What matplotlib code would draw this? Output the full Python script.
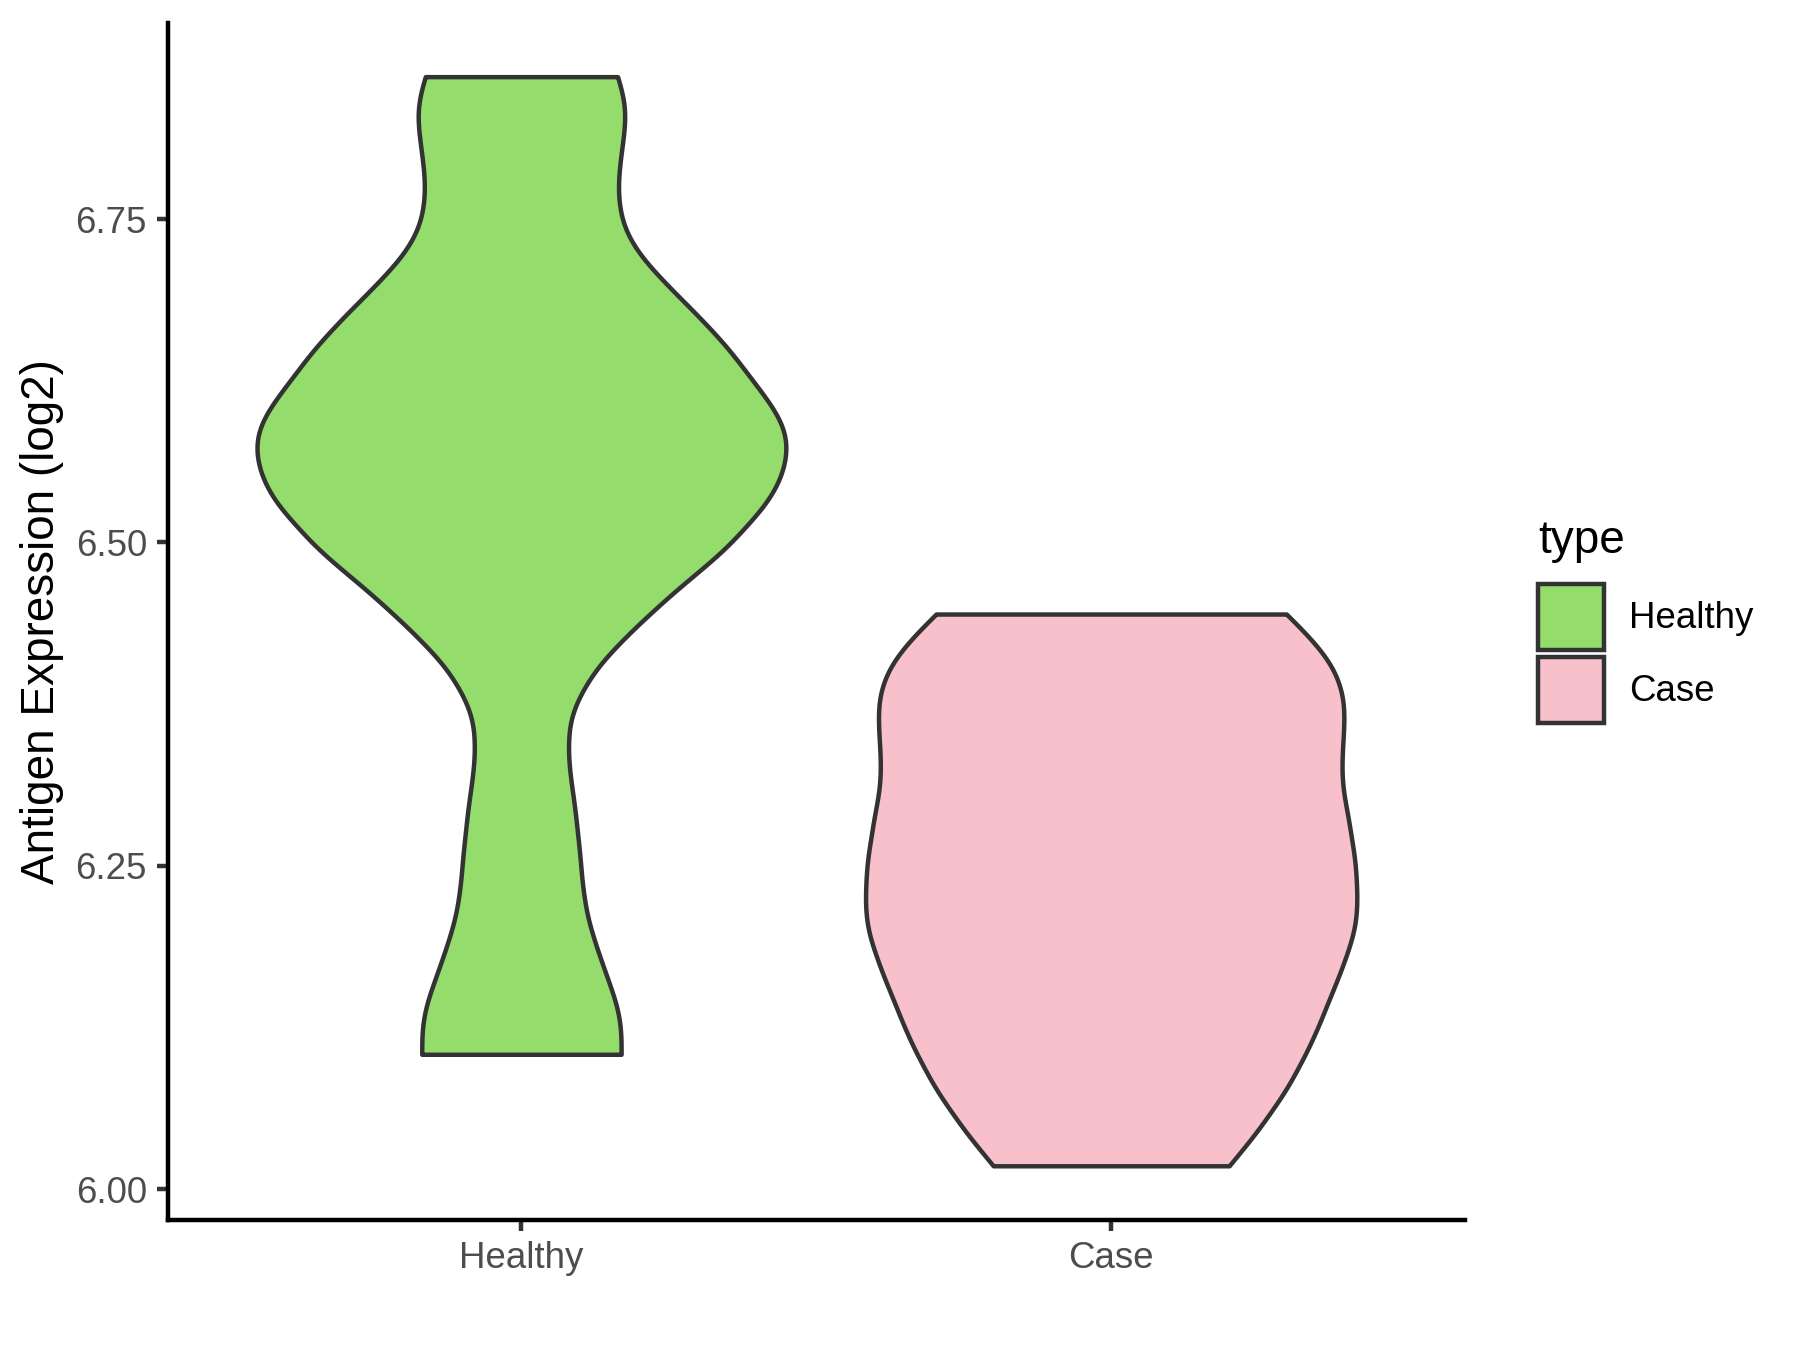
import numpy as np
import matplotlib
matplotlib.use("Agg")
import matplotlib.pyplot as plt
from matplotlib.patches import Patch

plt.rcParams['font.family'] = ['Liberation Sans', 'DejaVu Sans']

# groups and fills
groups = ["Healthy", "Case"]
fills = ["#94DC6B", "#F8C0CB"]
edge = "#333333"

# violin outlines: expression level and half width (x units)
healthy_y = [6.1044, 6.1206, 6.1334, 6.1463, 6.1592, 6.1721, 6.1850, 6.1979, 6.2107,
             6.2236, 6.2417, 6.2546, 6.2675, 6.2803, 6.2932, 6.3061, 6.3190, 6.3319,
             6.3448, 6.3576, 6.3705, 6.3834, 6.3963, 6.4092, 6.4220, 6.4349, 6.4478,
             6.4607, 6.4736, 6.4865, 6.4994, 6.5122, 6.5251, 6.5380, 6.5509, 6.5638,
             6.5767, 6.5895, 6.6024, 6.6153, 6.6282, 6.6411, 6.6540, 6.6668, 6.6797,
             6.6926, 6.7055, 6.7184, 6.7313, 6.7441, 6.7570, 6.7700, 6.7828, 6.7957,
             6.8086, 6.8214, 6.8343, 6.8473, 6.8601]
healthy_w = [0.169, 0.169, 0.166, 0.159, 0.149, 0.139, 0.129, 0.120, 0.112,
             0.107, 0.102, 0.100, 0.097, 0.094, 0.091, 0.087, 0.083, 0.080,
             0.0795, 0.081, 0.088, 0.101, 0.118, 0.139, 0.166, 0.194, 0.225,
             0.256, 0.290, 0.324, 0.355, 0.380, 0.406, 0.426, 0.440, 0.448,
             0.450, 0.444, 0.429, 0.409, 0.387, 0.366, 0.343, 0.317, 0.290,
             0.261, 0.234, 0.208, 0.188, 0.174, 0.167, 0.164, 0.1647, 0.1676,
             0.1715, 0.175, 0.176, 0.1715, 0.163]

case_y = [6.0182, 6.0304, 6.0433, 6.0561, 6.0690, 6.0819, 6.0948, 6.1077, 6.1206,
          6.1334, 6.1463, 6.1592, 6.1721, 6.1850, 6.1979, 6.2107, 6.2236, 6.2365,
          6.2494, 6.2623, 6.2752, 6.2880, 6.3009, 6.3138, 6.3267, 6.3396, 6.3525,
          6.3653, 6.3782, 6.3912, 6.4040, 6.4169, 6.4298, 6.4447]
case_w = [0.200, 0.222, 0.245, 0.265, 0.285, 0.303, 0.318, 0.333, 0.346,
          0.358, 0.369, 0.381, 0.392, 0.402, 0.411, 0.4157, 0.417, 0.416,
          0.4145, 0.411, 0.406, 0.402, 0.396, 0.392, 0.391, 0.392, 0.394,
          0.395, 0.394, 0.387, 0.375, 0.355, 0.330, 0.297]

profiles = [(healthy_y, healthy_w), (case_y, case_w)]

y_ticks = [6.00, 6.25, 6.50, 6.75]


def smooth_profile(ys, ws, n=800, sigma=0.009):
    # cubic hermite through the read points, then a light gaussian pass
    ys = np.asarray(ys, float)
    ws = np.asarray(ws, float)
    m = np.gradient(ws, ys)
    yy = np.linspace(ys[0], ys[-1], n)
    idx = np.clip(np.searchsorted(ys, yy) - 1, 0, len(ys) - 2)
    h = ys[idx + 1] - ys[idx]
    t = (yy - ys[idx]) / h
    h00 = 2 * t**3 - 3 * t**2 + 1
    h10 = t**3 - 2 * t**2 + t
    h01 = -2 * t**3 + 3 * t**2
    h11 = t**3 - t**2
    ww = h00 * ws[idx] + h10 * h * m[idx] + h01 * ws[idx + 1] + h11 * h * m[idx + 1]

    step = yy[1] - yy[0]
    s = sigma / step
    k = int(4 * s)
    kern = np.exp(-0.5 * (np.arange(-k, k + 1) / s) ** 2)
    kern /= kern.sum()
    padded = np.pad(ww, k, mode="reflect", reflect_type="odd")
    ww = np.convolve(padded, kern, mode="valid")
    return yy, ww


fig = plt.figure(figsize=(6, 4.5), dpi=300)
ax = fig.add_axes([0.0931, 0.0963, 0.8139 - 0.0931, 0.983 - 0.0963])

lw = 1.07
for i, (name, (ys, ws)) in enumerate(zip(groups, profiles)):
    pos = i + 1
    yy, ww = smooth_profile(ys, ws)
    ax.fill_betweenx(yy, pos - ww, pos + ww, facecolor=fills[i], edgecolor=edge,
                     linewidth=lw, joinstyle='round')

ax.set_xlim(0.4, 2.6)
ax.set_ylim(5.9763, 6.9016)
ax.set_xticks([1, 2])
ax.set_xticklabels(groups)
ax.set_yticks(y_ticks)
ax.set_yticklabels([f"{v:.2f}" for v in y_ticks])

for s in ["top", "right"]:
    ax.spines[s].set_visible(False)
for s in ["left", "bottom"]:
    ax.spines[s].set_linewidth(lw)
    ax.spines[s].set_color("black")
    ax.spines[s].set_capstyle("projecting")

ax.tick_params(axis="both", length=2.75, width=lw, color=edge, pad=2.2,
               labelsize=8.8, labelcolor="#4D4D4D")
ax.set_ylabel("Antigen Expression (log2)", fontsize=11, color="black", labelpad=2.75)

handles = [Patch(facecolor=fills[i], edgecolor=edge, linewidth=lw) for i in range(2)]
leg = fig.legend(handles, groups, loc="lower left", bbox_to_anchor=(0.8544, 0.4644),
                 frameon=False, fontsize=8.8, title="type", title_fontsize=11,
                 handlelength=1.8, handleheight=2.39, labelspacing=0.19,
                 handletextpad=0.69, borderpad=0, borderaxespad=0,
                 alignment="left")
leg._legend_box.sep = 5

fig.savefig("out.png", dpi=300)
